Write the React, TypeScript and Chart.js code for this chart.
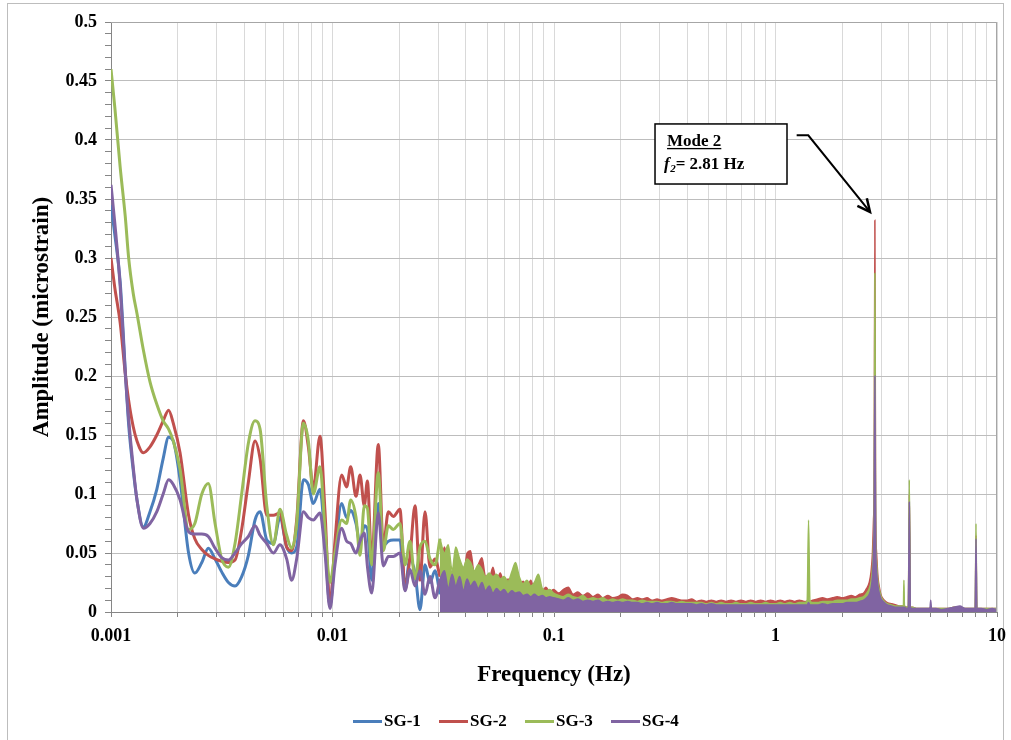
import React, { useEffect, useRef } from 'react';
import { Chart, registerables } from 'chart.js';

Chart.register(...registerables);

const FONT = "'Liberation Serif', 'Times New Roman', serif";

const SERIES_NAMES = ['SG-1', 'SG-2', 'SG-3', 'SG-4'];
const SERIES_COLORS = ['#4A7EBB', '#C0504D', '#9BBB59', '#8064A2'];

// ---- Low-frequency part (0.001 – 0.03 Hz) ----
const FREQ_LOW = [
  0.001, 0.00104, 0.0011, 0.00116, 0.0012, 0.00126, 0.00131, 0.0014, 0.0015, 0.00161,
  0.00172, 0.00182, 0.00191, 0.00205, 0.00224, 0.00239, 0.00257, 0.00275, 0.00295, 0.00316,
  0.00339, 0.00363, 0.00389, 0.00417, 0.00447, 0.00471, 0.00505, 0.00541, 0.00579, 0.00621,
  0.00654, 0.00689, 0.00739, 0.00778, 0.00819, 0.00878, 0.00925, 0.00974, 0.01026, 0.011,
  0.01158, 0.01208, 0.01277, 0.01331, 0.01392, 0.01437, 0.01503, 0.0161, 0.01696, 0.01787,
  0.01882, 0.02017, 0.02125, 0.02238, 0.02358, 0.02483, 0.02616, 0.02755, 0.02902, 0.03057,
];
const SG1_LOW = [
  0.345, 0.320, 0.280, 0.205, 0.160, 0.120, 0.095, 0.072, 0.085, 0.104,
  0.130, 0.148, 0.145, 0.112, 0.050, 0.033, 0.042, 0.054, 0.045, 0.034,
  0.025, 0.022, 0.030, 0.048, 0.078, 0.085, 0.061, 0.058, 0.080, 0.055,
  0.050, 0.055, 0.112, 0.108, 0.092, 0.104, 0.060, 0.005, 0.050, 0.092,
  0.080, 0.086, 0.075, 0.058, 0.073, 0.070, 0.027, 0.092, 0.056, 0.060,
  0.061, 0.061, 0.022, 0.045, 0.033, 0.002, 0.040, 0.025, 0.035, 0.015,
];
const SG2_LOW = [
  0.300, 0.275, 0.245, 0.202, 0.180, 0.157, 0.145, 0.135, 0.140, 0.150,
  0.162, 0.171, 0.160, 0.135, 0.082, 0.062, 0.053, 0.048, 0.045, 0.043,
  0.042, 0.044, 0.070, 0.110, 0.145, 0.130, 0.082, 0.082, 0.084, 0.055,
  0.052, 0.078, 0.162, 0.140, 0.105, 0.149, 0.085, 0.006, 0.060, 0.116,
  0.106, 0.123, 0.098, 0.116, 0.090, 0.111, 0.044, 0.142, 0.056, 0.085,
  0.081, 0.087, 0.019, 0.047, 0.090, 0.027, 0.085, 0.038, 0.045, 0.030,
];
const SG3_LOW = [
  0.460, 0.428, 0.377, 0.335, 0.301, 0.270, 0.253, 0.222, 0.195, 0.176,
  0.162, 0.155, 0.145, 0.121, 0.070, 0.075, 0.100, 0.109, 0.075, 0.045,
  0.038, 0.058, 0.100, 0.143, 0.162, 0.155, 0.090, 0.057, 0.087, 0.065,
  0.054, 0.075, 0.160, 0.145, 0.100, 0.123, 0.070, 0.025, 0.050, 0.078,
  0.075, 0.095, 0.080, 0.048, 0.090, 0.088, 0.040, 0.118, 0.052, 0.073,
  0.070, 0.075, 0.040, 0.060, 0.028, 0.055, 0.060, 0.045, 0.040, 0.062,
];
const SG4_LOW = [
  0.362, 0.330, 0.276, 0.202, 0.165, 0.123, 0.095, 0.071, 0.075, 0.085,
  0.100, 0.112, 0.108, 0.095, 0.068, 0.066, 0.066, 0.064, 0.054, 0.046,
  0.044, 0.050, 0.058, 0.064, 0.073, 0.065, 0.058, 0.050, 0.057, 0.045,
  0.027, 0.045, 0.085, 0.080, 0.078, 0.084, 0.050, 0.003, 0.040, 0.071,
  0.060, 0.058, 0.050, 0.060, 0.067, 0.039, 0.016, 0.084, 0.039, 0.047,
  0.047, 0.050, 0.018, 0.036, 0.022, 0.035, 0.015, 0.030, 0.012, 0.028,
];

// ---- Mid part (0.03 – 1 Hz), dense spectrum envelope ----
const FREQ_MID = [
  0.032, 0.0333, 0.0347, 0.036, 0.0375, 0.039, 0.0405, 0.042, 0.0437, 0.0455,
  0.0473, 0.049, 0.051, 0.053, 0.055, 0.0572, 0.0595, 0.062, 0.0645, 0.067,
  0.0697, 0.0725, 0.0755, 0.0785, 0.0815, 0.085, 0.0885, 0.092, 0.0957, 0.0995,
  0.105, 0.11, 0.116, 0.122, 0.128, 0.135, 0.142, 0.15, 0.158, 0.166,
  0.175, 0.184, 0.194, 0.204, 0.215, 0.226, 0.238, 0.25, 0.263, 0.277,
  0.292, 0.307, 0.323, 0.34, 0.358, 0.377, 0.397, 0.418, 0.44, 0.463,
  0.487, 0.513, 0.54, 0.568, 0.598, 0.63, 0.663, 0.698, 0.735, 0.773,
  0.814, 0.857, 0.902, 0.95, 1.0,
];
const SG1_MID = [
  0.030, 0.025, 0.010, 0.028, 0.020, 0.026, 0.035, 0.030, 0.020, 0.025,
  0.040, 0.022, 0.018, 0.020, 0.015, 0.018, 0.016, 0.017, 0.014, 0.016,
  0.013, 0.015, 0.013, 0.014, 0.012, 0.013, 0.011, 0.012, 0.011, 0.011,
  0.010, 0.011, 0.010, 0.009, 0.010, 0.009, 0.009, 0.008, 0.009, 0.008,
  0.008, 0.008, 0.007, 0.008, 0.007, 0.008, 0.007, 0.007, 0.007, 0.007,
  0.006, 0.007, 0.006, 0.007, 0.006, 0.006, 0.006, 0.006, 0.006, 0.006,
  0.005, 0.006, 0.005, 0.006, 0.005, 0.005, 0.005, 0.005, 0.005, 0.005,
  0.005, 0.005, 0.005, 0.005, 0.005,
];
const SG2_MID = [
  0.055, 0.040, 0.030, 0.048, 0.035, 0.030, 0.050, 0.052, 0.032, 0.040,
  0.046, 0.030, 0.028, 0.038, 0.026, 0.033, 0.024, 0.028, 0.022, 0.024,
  0.021, 0.026, 0.020, 0.027, 0.019, 0.022, 0.018, 0.021, 0.017, 0.019,
  0.016, 0.019, 0.021, 0.015, 0.017, 0.014, 0.016, 0.013, 0.015, 0.012,
  0.014, 0.012, 0.013, 0.015, 0.014, 0.011, 0.012, 0.011, 0.012, 0.010,
  0.011, 0.010, 0.011, 0.012, 0.011, 0.010, 0.010, 0.011, 0.009, 0.010,
  0.009, 0.010, 0.009, 0.010, 0.009, 0.010, 0.009, 0.010, 0.009, 0.010,
  0.009, 0.010, 0.009, 0.010, 0.009,
];
const SG3_MID = [
  0.050, 0.057, 0.035, 0.055, 0.045, 0.038, 0.045, 0.042, 0.035, 0.040,
  0.036, 0.030, 0.033, 0.030, 0.032, 0.028, 0.030, 0.026, 0.034, 0.042,
  0.030, 0.024, 0.027, 0.022, 0.025, 0.032, 0.020, 0.018, 0.019, 0.016,
  0.014, 0.013, 0.015, 0.013, 0.012, 0.014, 0.011, 0.012, 0.011, 0.012,
  0.010, 0.011, 0.010, 0.011, 0.010, 0.010, 0.009, 0.010, 0.009, 0.009,
  0.009, 0.008, 0.009, 0.009, 0.008, 0.009, 0.008, 0.008, 0.008, 0.008,
  0.007, 0.008, 0.007, 0.008, 0.007, 0.007, 0.008, 0.007, 0.007, 0.008,
  0.007, 0.007, 0.008, 0.007, 0.007,
];
const SG4_MID = [
  0.035, 0.020, 0.032, 0.022, 0.030, 0.018, 0.028, 0.022, 0.026, 0.020,
  0.025, 0.018, 0.022, 0.016, 0.020, 0.017, 0.019, 0.015, 0.018, 0.016,
  0.017, 0.014, 0.015, 0.013, 0.015, 0.013, 0.014, 0.012, 0.013, 0.012,
  0.011, 0.010, 0.012, 0.010, 0.011, 0.009, 0.010, 0.009, 0.010, 0.008,
  0.009, 0.008, 0.009, 0.008, 0.009, 0.008, 0.008, 0.007, 0.008, 0.007,
  0.008, 0.007, 0.007, 0.008, 0.007, 0.007, 0.007, 0.007, 0.006, 0.007,
  0.006, 0.007, 0.006, 0.006, 0.006, 0.006, 0.006, 0.006, 0.006, 0.006,
  0.006, 0.006, 0.006, 0.006, 0.006,
];

// ---- High part (1 – 10 Hz) with the modal peaks ----
const FREQ_HIGH = [
  1.05, 1.1, 1.16, 1.22, 1.28, 1.35, 1.39, 1.41, 1.43, 1.47,
  1.55, 1.63, 1.72, 1.81, 1.9, 2.0, 2.1, 2.2, 2.3, 2.4,
  2.5, 2.58, 2.65, 2.7, 2.74, 2.77, 2.79, 2.81, 2.83, 2.86,
  2.9, 2.95, 3.0, 3.1, 3.2, 3.35, 3.5, 3.65, 3.78, 3.8,
  3.82, 3.9, 3.98, 4.02, 4.06, 4.15, 4.35, 4.6, 4.85, 4.98,
  5.02, 5.06, 5.3, 5.6, 6.0, 6.4, 6.8, 7.2, 7.6, 7.98,
  8.04, 8.1, 8.5, 9.0, 9.5, 10.0,
];
const SG1_HIGH = [
  0.005, 0.005, 0.005, 0.005, 0.005, 0.005, 0.005, 0.006, 0.005, 0.005,
  0.005, 0.006, 0.005, 0.006, 0.006, 0.006, 0.006, 0.007, 0.007, 0.007,
  0.008, 0.010, 0.012, 0.016, 0.025, 0.045, 0.070, 0.180, 0.060, 0.030,
  0.018, 0.012, 0.009, 0.007, 0.005, 0.004, 0.004, 0.003, 0.003, 0.003,
  0.003, 0.003, 0.004, 0.080, 0.003, 0.003, 0.002, 0.002, 0.002, 0.002,
  0.004, 0.002, 0.002, 0.002, 0.002, 0.003, 0.003, 0.002, 0.002, 0.002,
  0.055, 0.002, 0.002, 0.002, 0.002, 0.002,
];
const SG2_HIGH = [
  0.010, 0.009, 0.010, 0.009, 0.010, 0.009, 0.009, 0.010, 0.009, 0.010,
  0.011, 0.012, 0.011, 0.012, 0.013, 0.012, 0.013, 0.014, 0.013, 0.015,
  0.016, 0.020, 0.025, 0.034, 0.050, 0.078, 0.110, 0.332, 0.090, 0.050,
  0.030, 0.020, 0.014, 0.010, 0.008, 0.007, 0.006, 0.005, 0.005, 0.005,
  0.005, 0.004, 0.005, 0.100, 0.004, 0.004, 0.003, 0.003, 0.003, 0.003,
  0.004, 0.003, 0.003, 0.003, 0.003, 0.004, 0.004, 0.003, 0.003, 0.003,
  0.065, 0.003, 0.003, 0.003, 0.003, 0.003,
];
const SG3_HIGH = [
  0.008, 0.007, 0.008, 0.007, 0.008, 0.008, 0.010, 0.078, 0.010, 0.008,
  0.008, 0.009, 0.009, 0.009, 0.010, 0.010, 0.010, 0.011, 0.011, 0.012,
  0.013, 0.016, 0.020, 0.026, 0.038, 0.060, 0.095, 0.287, 0.075, 0.042,
  0.026, 0.018, 0.013, 0.009, 0.007, 0.006, 0.005, 0.005, 0.005, 0.027,
  0.005, 0.004, 0.005, 0.112, 0.004, 0.004, 0.003, 0.003, 0.003, 0.003,
  0.004, 0.003, 0.003, 0.003, 0.003, 0.004, 0.004, 0.003, 0.003, 0.003,
  0.075, 0.003, 0.003, 0.003, 0.003, 0.003,
];
const SG4_HIGH = [
  0.006, 0.006, 0.006, 0.006, 0.006, 0.006, 0.006, 0.008, 0.006, 0.006,
  0.006, 0.007, 0.006, 0.007, 0.007, 0.007, 0.008, 0.008, 0.008, 0.009,
  0.010, 0.012, 0.015, 0.020, 0.030, 0.050, 0.080, 0.200, 0.065, 0.035,
  0.022, 0.015, 0.011, 0.008, 0.006, 0.005, 0.004, 0.004, 0.004, 0.004,
  0.004, 0.003, 0.004, 0.093, 0.004, 0.003, 0.003, 0.003, 0.003, 0.003,
  0.010, 0.003, 0.003, 0.002, 0.003, 0.004, 0.005, 0.003, 0.003, 0.003,
  0.062, 0.003, 0.003, 0.002, 0.003, 0.002,
];

// ---- Axis tick labels ----
const X_DECADES = [0.001, 0.01, 0.1, 1, 10];
const X_DECADE_LABELS = ['0.001', '0.01', '0.1', '1', '10'];
const Y_MAJOR_LABELS = ['0', '0.05', '0.1', '0.15', '0.2', '0.25', '0.3', '0.35', '0.4', '0.45', '0.5'];

// ---- Annotation (data coordinates) ----
const ANNOTATION = {
  title: 'Mode 2',
  valueText: '= 2.81 Hz',
  box: { f0: 0.2858, v0: 0.4136, f1: 1.127, v1: 0.3627 },
  arrow: { start: [1.246, 0.404], elbow: [1.406, 0.404], tip: [2.671, 0.339] },
};

const LOWS = [SG1_LOW, SG2_LOW, SG3_LOW, SG4_LOW];
const MIDS = [SG1_MID, SG2_MID, SG3_MID, SG4_MID];
const HIGHS = [SG1_HIGH, SG2_HIGH, SG3_HIGH, SG4_HIGH];

const X_GRID: { value: number; label: string }[] = [];
X_DECADES.forEach((d, i) => {
  if (i === X_DECADES.length - 1) {
    X_GRID.push({ value: d, label: X_DECADE_LABELS[i] });
    return;
  }
  for (let m = 1; m <= 9; m++) {
    X_GRID.push({ value: +(d * m).toPrecision(6), label: m === 1 ? X_DECADE_LABELS[i] : '' });
  }
});
const Y_TICKS: { value: number; label: string }[] = [];
for (let i = 0; i <= 50; i++) {
  Y_TICKS.push({ value: i / 100, label: i % 5 === 0 ? Y_MAJOR_LABELS[i / 5] : '' });
}

const toPts = (fs: number[], vs: number[]) => fs.map((f, i) => ({ x: f, y: vs[i] }));

const overlayPlugin = {
  id: 'overlay',
  afterDatasetsDraw(chart: any) {
    const { ctx, chartArea, scales } = chart;
    const xs = scales.x;
    const ys = scales.y;
    ctx.save();
    // plot area top/right border
    ctx.strokeStyle = '#a6a6a6';
    ctx.lineWidth = 1;
    ctx.beginPath();
    ctx.moveTo(chartArea.left, Math.round(chartArea.top) + 0.5);
    ctx.lineTo(Math.round(chartArea.right) - 0.5, Math.round(chartArea.top) + 0.5);
    ctx.lineTo(Math.round(chartArea.right) - 0.5, chartArea.bottom);
    ctx.stroke();

    const px = (f: number) => xs.getPixelForValue(f);
    const py = (v: number) => ys.getPixelForValue(v);
    const b = ANNOTATION.box;
    const bl = px(b.f0), bt = py(b.v0), br = px(b.f1), bb = py(b.v1);
    ctx.fillStyle = '#ffffff';
    ctx.fillRect(bl, bt, br - bl, bb - bt);
    ctx.strokeStyle = '#000000';
    ctx.lineWidth = 1.5;
    ctx.strokeRect(bl, bt, br - bl, bb - bt);

    ctx.fillStyle = '#000000';
    ctx.textBaseline = 'alphabetic';
    ctx.textAlign = 'left';
    ctx.font = `bold 17px ${FONT}`;
    const tx = bl + 12;
    ctx.fillText(ANNOTATION.title, tx, bt + 22);
    const tw = ctx.measureText(ANNOTATION.title).width;
    ctx.fillRect(tx, bt + 24, tw, 1.3);

    let cx = bl + 9;
    ctx.font = `italic bold 17px ${FONT}`;
    ctx.fillText('f', cx, bt + 45);
    cx += ctx.measureText('f').width + 0.5;
    ctx.font = `italic bold 11px ${FONT}`;
    ctx.fillText('2', cx, bt + 48);
    cx += ctx.measureText('2').width;
    ctx.font = `bold 17px ${FONT}`;
    ctx.fillText(ANNOTATION.valueText, cx, bt + 45);

    const a = ANNOTATION.arrow;
    const sx = px(a.start[0]), sy = py(a.start[1]);
    const ex = px(a.elbow[0]), ey = py(a.elbow[1]);
    const qx = px(a.tip[0]), qy = py(a.tip[1]);
    ctx.lineWidth = 2;
    ctx.lineJoin = 'miter';
    ctx.beginPath();
    ctx.moveTo(sx, sy);
    ctx.lineTo(ex, ey);
    ctx.lineTo(qx, qy);
    ctx.stroke();
    const ang = Math.atan2(qy - ey, qx - ex);
    const L = 14, spread = 0.45;
    ctx.lineWidth = 2.5;
    ctx.beginPath();
    ctx.moveTo(qx - L * Math.cos(ang - spread), qy - L * Math.sin(ang - spread));
    ctx.lineTo(qx, qy);
    ctx.lineTo(qx - L * Math.cos(ang + spread), qy - L * Math.sin(ang + spread));
    ctx.stroke();
    ctx.restore();
  },
};

export default function App() {
  const canvasRef = useRef<HTMLCanvasElement | null>(null);

  useEffect(() => {
    const canvas = canvasRef.current;
    if (!canvas) return;
    const datasets: any[] = [];
    SERIES_NAMES.forEach((name, k) => {
      const low = toPts(FREQ_LOW, LOWS[k]);
      datasets.push({
        label: name,
        data: low,
        borderColor: SERIES_COLORS[k],
        backgroundColor: SERIES_COLORS[k],
        borderWidth: 3,
        fill: false,
        pointRadius: 0,
        cubicInterpolationMode: 'monotone',
        order: 3 - k,
      });
    });
    SERIES_NAMES.forEach((name, k) => {
      const low = toPts(FREQ_LOW, LOWS[k]);
      const hf = [low[low.length - 1], ...toPts(FREQ_MID, MIDS[k]), ...toPts(FREQ_HIGH, HIGHS[k])];
      datasets.push({
        label: name + ' (HF)',
        data: hf,
        borderColor: SERIES_COLORS[k],
        backgroundColor: SERIES_COLORS[k],
        borderWidth: 1.5,
        fill: 'origin',
        pointRadius: 0,
        cubicInterpolationMode: 'monotone',
        order: 3 - k,
      });
    });

    const tickFont = { family: FONT, size: 18, weight: 'bold' as const };
    const titleFont = { family: FONT, size: 23, weight: 'bold' as const };

    const chart = new Chart(canvas, {
      type: 'line',
      data: { datasets },
      options: {
        responsive: false,
        animation: false,
        devicePixelRatio: 1,
        layout: { padding: { left: 0, top: 22, right: 14, bottom: 48 } },
        plugins: {
          legend: { display: false },
          tooltip: { enabled: false },
        },
        elements: { point: { radius: 0 } },
        scales: {
          x: {
            type: 'logarithmic',
            min: 0.001,
            max: 10,
            afterBuildTicks: (scale: any) => {
              scale.ticks = X_GRID.map((g) => ({ value: g.value }));
            },
            afterFit: (scale: any) => {
              scale.height = 80;
              scale.paddingLeft = 0;
              scale.paddingRight = 0;
            },
            ticks: {
              autoSkip: false,
              maxRotation: 0,
              minRotation: 0,
              padding: 9,
              color: '#000',
              font: tickFont,
              callback: (_v: any, i: number) => (X_GRID[i] ? X_GRID[i].label : ''),
            },
            grid: { color: '#d9d9d9', tickColor: '#868686', tickLength: 5, lineWidth: 1 },
            border: { color: '#868686', width: 1 },
            title: {
              display: true,
              text: 'Frequency (Hz)',
              color: '#000',
              font: titleFont,
              padding: { top: 0, bottom: 3 },
            },
          },
          y: {
            type: 'linear',
            min: 0,
            max: 0.5,
            afterBuildTicks: (scale: any) => {
              scale.ticks = Y_TICKS.map((t) => ({ value: t.value }));
            },
            afterFit: (scale: any) => {
              scale.width = 111;
              scale.paddingTop = 0;
              scale.paddingBottom = 0;
            },
            ticks: {
              autoSkip: false,
              padding: 8,
              color: '#000',
              font: tickFont,
              callback: (_v: any, i: number) => (Y_TICKS[i] ? Y_TICKS[i].label : ''),
            },
            grid: {
              color: (ctx: any) => (ctx.index % 5 === 0 ? '#bdbdbd' : 'rgba(0,0,0,0)'),
              tickColor: '#868686',
              tickLength: 6,
              lineWidth: 1,
            },
            border: { color: '#868686', width: 1 },
            title: {
              display: true,
              text: 'Amplitude (microstrain)',
              color: '#000',
              font: titleFont,
              padding: { top: 28, bottom: 0 },
            },
          },
        },
      },
      plugins: [overlayPlugin],
    } as any);

    return () => chart.destroy();
  }, []);

  return (
    <div style={{ position: 'fixed', left: 0, top: 0, width: 1011, height: 740, overflow: 'hidden', background: '#fff' }}>
      <div
        style={{
          position: 'absolute',
          left: 7,
          top: 3,
          width: 997,
          height: 780,
          border: '1.5px solid #bdbdbd',
          boxSizing: 'border-box',
        }}
      />
      <canvas
        ref={canvasRef}
        width={1011}
        height={740}
        style={{ position: 'absolute', left: 0, top: 0, width: 1011, height: 740 }}
      />
      <div
        style={{
          position: 'absolute',
          left: 353,
          top: 710,
          display: 'flex',
          fontFamily: FONT,
          fontWeight: 'bold',
          fontSize: 17,
          lineHeight: '22px',
          color: '#000',
        }}
      >
        {SERIES_NAMES.map((name, k) => (
          <div key={name} style={{ display: 'flex', alignItems: 'center', width: 86 }}>
            <span style={{ display: 'inline-block', width: 29, height: 3, background: SERIES_COLORS[k] }} />
            <span style={{ marginLeft: 2 }}>{name}</span>
          </div>
        ))}
      </div>
    </div>
  );
}
